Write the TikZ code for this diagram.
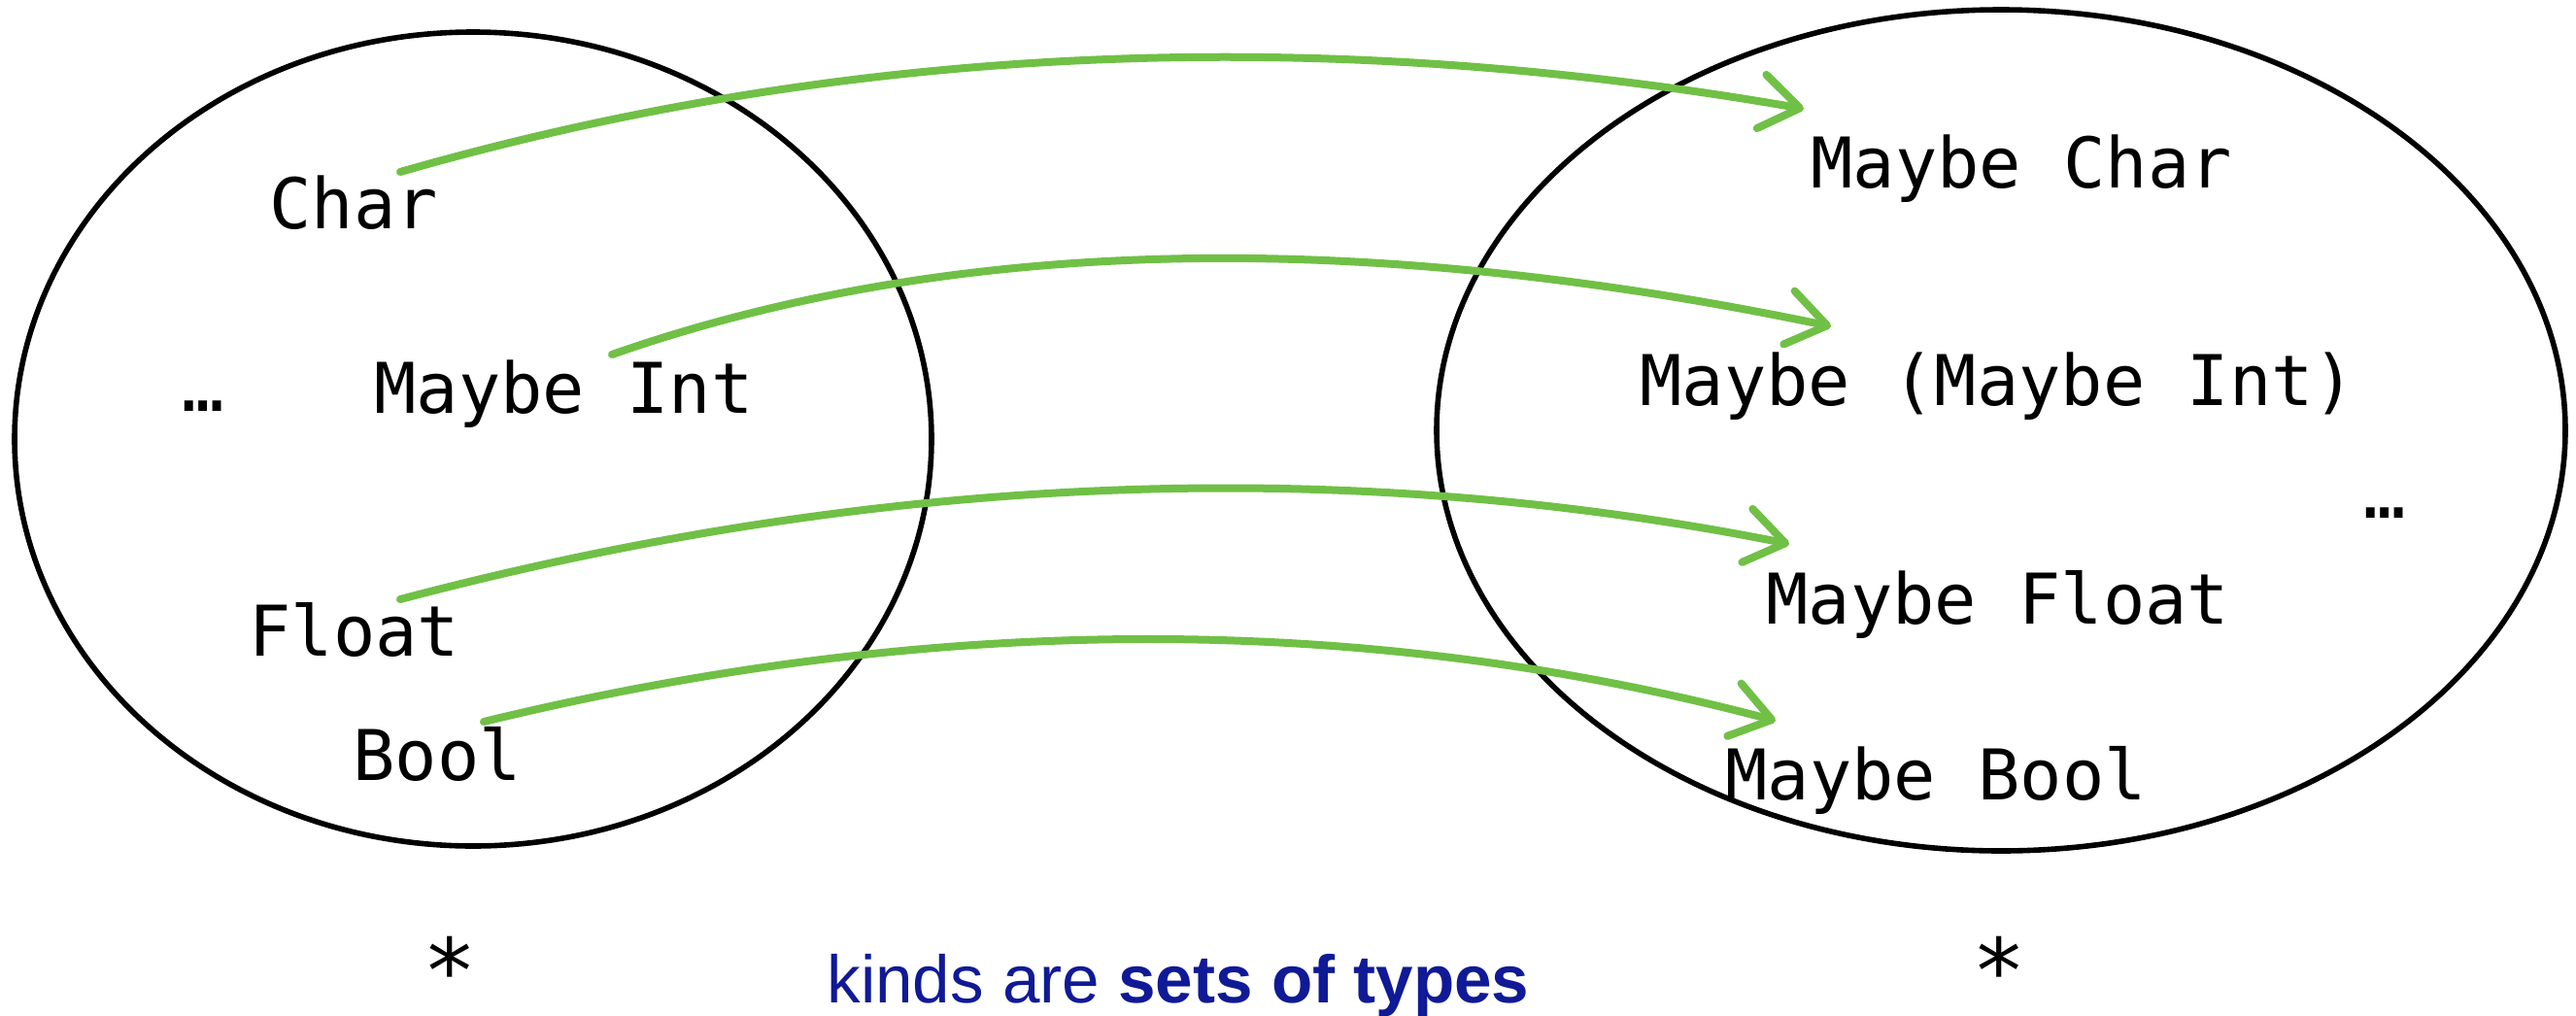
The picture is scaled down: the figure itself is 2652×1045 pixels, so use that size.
\documentclass[tikz,border=0pt]{standalone}
\usepackage{fontspec}
\setmonofont{DejaVu Sans Mono}
\setsansfont{Liberation Sans}
\usetikzlibrary{arrows.meta,calc}
\definecolor{arrowgreen}{RGB}{112,192,70}
\definecolor{capblue}{RGB}{16,26,150}
\tikzset{
  typelabel/.style={anchor=base west, inner sep=0pt, font=\ttfamily\fontsize{36pt}{40pt}\selectfont},
  setellipse/.style={draw=black, line width=2.8pt},
  maparrow/.style={draw=arrowgreen, line width=4pt, line cap=round, line join=round,
    -{Straight Barb[length=20pt,width=28pt,round]}},
  kindstar/.style={anchor=base, inner sep=0pt, font=\ttfamily\fontsize{46pt}{50pt}\selectfont},
  caption/.style={anchor=base west, inner sep=0pt, text=capblue, font=\sffamily\fontsize{34.6pt}{38pt}\selectfont}
}
\begin{document}
\begin{tikzpicture}[x=0.5pt,y=-0.5pt]
\useasboundingbox (0,0) rectangle (2652,1045);
% sets
\draw[setellipse] (487,452) ellipse [x radius=472, y radius=419];
\draw[setellipse] (2060,443) ellipse [x radius=581, y radius=433];
% left set types
\node[typelabel] (char) at (277,235) {Char};
\node[typelabel] (ldots) at (187,423) {…};
\node[typelabel] (mint) at (385,425) {Maybe Int};
\node[typelabel] (float) at (256,675) {Float};
\node[typelabel] (bool) at (363,803) {Bool};
% right set types
\node[typelabel] (mchar) at (1864,193) {Maybe Char};
\node[typelabel] (mmint) at (1688,417) {Maybe (Maybe Int)};
\node[typelabel] (rdots) at (2433,533) {…};
\node[typelabel] (mfloat) at (1818,642) {Maybe Float};
\node[typelabel] (mbool) at (1776,823) {Maybe Bool};
% kinds
\node[kindstar] (lstar) at (463,1032) {*};
\node[kindstar] (rstar) at (2058,1032) {*};
\node[caption] (cap) at (851,1032) {kinds are \textbf{sets of types}};
% arrow end points
\coordinate (s1) at (412,177);  \coordinate (q1) at (1098,-20); \coordinate (t1) at (1857,112);
\coordinate (s2) at (630,365);  \coordinate (q2) at (1150,183); \coordinate (t2) at (1885,336);
\coordinate (s3) at (412,617);  \coordinate (q3) at (1149,422); \coordinate (t3) at (1842,560);
\coordinate (s4) at (498,743);  \coordinate (q4) at (1193,574); \coordinate (t4) at (1828,742);
\foreach \i in {1,2,3,4}{
  \draw[maparrow] (s\i) .. controls ($(s\i)!0.6667!(q\i)$) and ($(t\i)!0.6667!(q\i)$) .. (t\i);
}
\end{tikzpicture}
\end{document}
